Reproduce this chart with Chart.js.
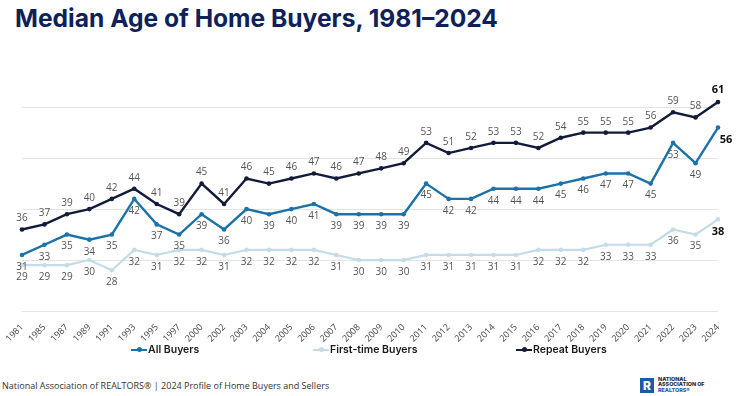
<!DOCTYPE html>
<html>
<head>
<meta charset="utf-8">
<script src="https://cdn.jsdelivr.net/npm/chart.js@4.4.1/dist/chart.umd.min.js"></script>
<style>
  html, body { margin: 0; padding: 0; background: #fff; }
  body { width: 740px; height: 396px; position: relative; overflow: hidden; font-family: "Open Sans", sans-serif; }
  #title { position: absolute; left: 15px; top: 3px; margin: 0; font-family: Inter, sans-serif; font-weight: 700; font-size: 24.6px; color: #0e2259; letter-spacing: 0; white-space: nowrap; }
  #chartBox { position: absolute; left: 0; top: 0; width: 740px; height: 345px; }
  #legend { position: absolute; top: 343px; left: 0; width: 740px; height: 16px; }
  .legend-item { position: absolute; top: 0; display: flex; align-items: center; font-family: Inter, sans-serif; font-weight: 600; font-size: 10.5px; color: #1a1a1a; white-space: nowrap; }
  .legend-swatch { position: relative; width: 16px; height: 8px; margin-right: 1px; }
  .legend-swatch .ln { position: absolute; left: 0; right: 0; top: 3px; height: 2px; }
  .legend-swatch .dt { position: absolute; left: 5.5px; top: 1.5px; width: 5px; height: 5px; border-radius: 50%; }
  #footer { position: absolute; left: 2px; top: 379px; font-size: 9px; color: #333; white-space: nowrap; }
  #logo { position: absolute; left: 640px; top: 377px; display: flex; align-items: center; }
  #logo .mark { width: 14px; height: 15px; background: #1d5aa6; color: #fff; font-family: Inter, sans-serif; font-weight: 800; font-size: 12px; line-height: 15px; text-align: center; margin-right: 4px; }
  #logo .words { font-family: Inter, sans-serif; font-weight: 800; font-size: 5.4px; line-height: 5.4px; color: #1c2a3a; }
  #logo .words span { color: #1d5aa6; }
</style>
</head>
<body>
<h1 id="title">Median Age of Home Buyers, 1981–2024</h1>
<div id="chartBox"><canvas id="ageChart"></canvas></div>
<div id="legend"></div>
<div id="footer">National Association of REALTORS® | 2024 Profile of Home Buyers and Sellers</div>
<div id="logo">
  <div class="mark">R</div>
  <div class="words">NATIONAL<br>ASSOCIATION OF<br><span>REALTORS®</span></div>
</div>
<script>
const years = [
  "1981", "1985", "1987", "1989", "1991", "1993", "1995", "1997", "2000", "2002",
  "2003", "2004", "2005", "2006", "2007", "2008", "2009", "2010", "2011", "2012",
  "2013", "2014", "2015", "2016", "2017", "2018", "2019", "2020", "2021", "2022",
  "2023", "2024",
];

const allBuyers = [
  31, 33, 35, 34, 35, 42, 37, 35, 39, 36,
  40, 39, 40, 41, 39, 39, 39, 39, 45, 42,
  42, 44, 44, 44, 45, 46, 47, 47, 45, 53,
  49, 56,
];

const firstTimeBuyers = [
  29, 29, 29, 30, 28, 32, 31, 32, 32, 31,
  32, 32, 32, 32, 31, 30, 30, 30, 31, 31,
  31, 31, 31, 32, 32, 32, 33, 33, 33, 36,
  35, 38,
];

const repeatBuyers = [
  36, 37, 39, 40, 42, 44, 41, 39, 45, 41,
  46, 45, 46, 47, 46, 47, 48, 49, 53, 51,
  52, 53, 53, 52, 54, 55, 55, 55, 56, 59,
  58, 61,
];

const gridValues = [20, 30, 40, 50, 60];

const palette = {
  all: "#1a72a9",
  first: "#c3dce7",
  repeat: "#121b3a",
  label: "#555555",
  strong: "#111111",
  grid: "#e4e4e4",
};

const seriesList = [
  { label: "All Buyers", data: allBuyers, color: palette.all, width: 2.4, dy: 12, lastDx: 8, lastDy: 12, legendLeft: 131 },
  { label: "First-time Buyers", data: firstTimeBuyers, color: palette.first, width: 2.2, dy: 12, lastDx: 0, lastDy: 13, legendLeft: 313 },
  { label: "Repeat Buyers", data: repeatBuyers, color: palette.repeat, width: 2.4, dy: -11, lastDx: 0, lastDy: -12, legendLeft: 516 },
];

// value labels next to every point, last point bold
const pointLabels = {
  id: "pointLabels",
  afterDatasetsDraw(chart) {
    const ctx = chart.ctx;
    ctx.save();
    ctx.textAlign = "center";
    ctx.textBaseline = "middle";
    chart.data.datasets.forEach((dataset, di) => {
      const meta = chart.getDatasetMeta(di);
      const cfg = seriesList[di];
      meta.data.forEach((point, i) => {
        const isLast = i === meta.data.length - 1;
        ctx.font = isLast ? "700 11px 'Open Sans'" : "400 10px 'Open Sans'";
        ctx.fillStyle = isLast ? palette.strong : palette.label;
        const dx = isLast ? cfg.lastDx : 0;
        const dy = isLast ? cfg.lastDy : cfg.dy;
        ctx.fillText(String(dataset.data[i]), point.x + dx, point.y + dy);
      });
    });
    ctx.restore();
  },
};

function renderLegend() {
  const legend = document.getElementById("legend");
  legend.innerHTML = seriesList
    .map(
      (s) => `
        <div class="legend-item" style="left:${s.legendLeft}px">
          <span class="legend-swatch"><span class="ln" style="background:${s.color}"></span><span class="dt" style="background:${s.color}"></span></span>
          ${s.label}
        </div>
      `,
    )
    .join("");
}

function renderChart() {
  const ctx = document.getElementById("ageChart").getContext("2d");
  new Chart(ctx, {
    type: "line",
    data: {
      labels: years,
      datasets: seriesList.map((s) => ({
        label: s.label,
        data: s.data,
        borderColor: s.color,
        backgroundColor: s.color,
        borderWidth: s.width,
        pointRadius: 2.3,
        pointBorderWidth: 0,
        pointHoverRadius: 2.3,
        tension: 0,
        clip: false,
      })),
    },
    options: {
      responsive: true,
      maintainAspectRatio: false,
      animation: false,
      layout: { padding: { left: 22, right: 22, top: 97, bottom: 0 } },
      plugins: {
        legend: { display: false },
        tooltip: { enabled: false },
      },
      scales: {
        x: {
          offset: false,
          grid: { display: false },
          border: { display: false },
          ticks: {
            autoSkip: false,
            maxRotation: 45,
            minRotation: 45,
            padding: 3,
            color: "#444",
            font: { family: "Open Sans", size: 9 },
          },
          afterFit(scale) {
            scale.height = 34;
          },
        },
        y: {
          min: 20,
          max: 62,
          afterBuildTicks(scale) {
            scale.ticks = gridValues.map((value) => ({ value }));
          },
          ticks: { display: false },
          border: { display: false },
          grid: { color: palette.grid, lineWidth: 1, drawTicks: false },
          afterFit(scale) {
            scale.width = 0;
          },
        },
      },
    },
    plugins: [pointLabels],
  });
}

renderLegend();
renderChart();
</script>
</body>
</html>
